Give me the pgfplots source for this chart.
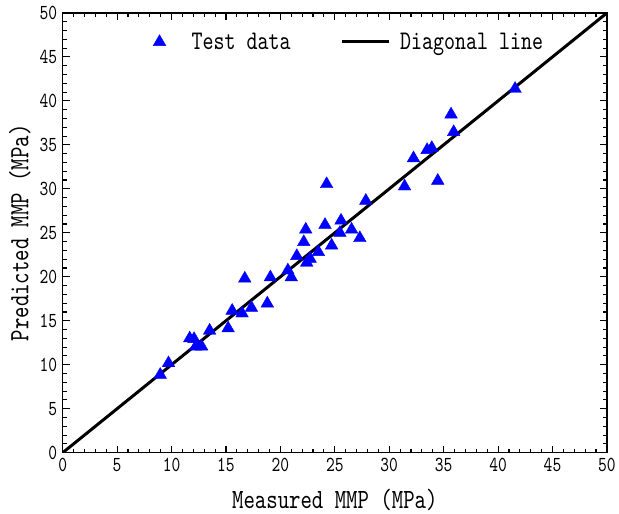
\documentclass[border=0pt]{standalone}
\usepackage{fontspec}
\setmainfont{lmmono10-regular}[Extension=.otf, FakeStretch=0.78]
\usepackage{pgfplots}
\pgfplotsset{compat=1.18}
\pgfplotsset{
  markimg/.style={legend image code/.code={\draw[##1] plot coordinates {(0pt,0pt)};}},
  lineimg/.style={legend image code/.code={\draw[##1] (0pt,0pt) -- (47pt,0pt);}},
}

\begin{document}
\begin{tikzpicture}
\begin{axis}[
    width=547pt, height=442pt, scale only axis,
    xmin=0, xmax=50, ymin=0, ymax=50,
    xtick distance=5, ytick distance=5,
    minor tick num=4,
    tick align=inside, tick pos=both,
    major tick length=7pt, minor tick length=4pt,
    every tick/.style={black, line width=1.1pt},
    axis line style={line width=1.4pt},
    /pgf/number format/assume math mode=true,
    tick label style={font=\fontsize{21.5}{23}\selectfont},
    xticklabel style={yshift=-2pt},
    yticklabel style={xshift=-2pt},
    label style={font=\fontsize{28}{30}\selectfont},
    xlabel={Measured MMP (MPa)},
    ylabel={Predicted MMP (MPa)},
    xlabel style={at={(axis description cs:0.5,-0.107)}, anchor=center},
    ylabel style={at={(axis description cs:-0.0786,0.5)}, anchor=center},
    legend columns=2,
    legend style={draw=none, fill=none, inner sep=0pt, outer sep=0pt,
        at={(rel axis cs:0.1664,0.934)}, anchor=west,
        font=\fontsize{27}{29}\selectfont,
        nodes={inner sep=0pt},
        /tikz/column 1/.style={column sep=26pt},
        /tikz/column 2/.style={column sep=50pt},
        /tikz/column 3/.style={column sep=10pt}},
  ]
  \coordinate (sw) at (rel axis cs:0,0);
  \coordinate (ne) at (rel axis cs:1,1);
  \addplot[only marks, mark=triangle*, mark size=7.3pt, color=blue, markimg]
    coordinates {
    (24.25,30.54) (27.85,28.65) (24.10,25.90) (25.57,26.39) (26.54,25.37)
    (25.47,25.00) (27.30,24.40) (22.33,25.37) (22.15,23.95) (24.71,23.56)
    (23.49,22.82) (21.51,22.36) (22.73,22.06) (22.42,21.61) (20.69,20.73)
    (21.00,19.94) (19.08,19.94) (16.73,19.80)
    (15.57,16.14) (16.48,15.84) (17.34,16.48) (18.80,16.97) (13.50,13.88)
    (15.20,14.14) (11.67,13.00) (12.07,12.93) (12.22,12.07) (12.77,12.07)
    (9.72,10.18) (8.96,8.86)
    (41.56,41.37) (35.68,38.46) (35.92,36.46) (33.48,34.42) (33.91,34.65)
    (32.23,33.48) (34.46,30.92) (31.41,30.28)
  };
  \addlegendentry{Test data}
  \addplot[black, line width=3pt, lineimg]
    coordinates {(0,0) (50,50)};
  \addlegendentry{Diagonal line}
\end{axis}
\path (sw) ++(-63pt,-61pt);
\path (ne) ++(9pt,13pt);
\end{tikzpicture}
\end{document}
